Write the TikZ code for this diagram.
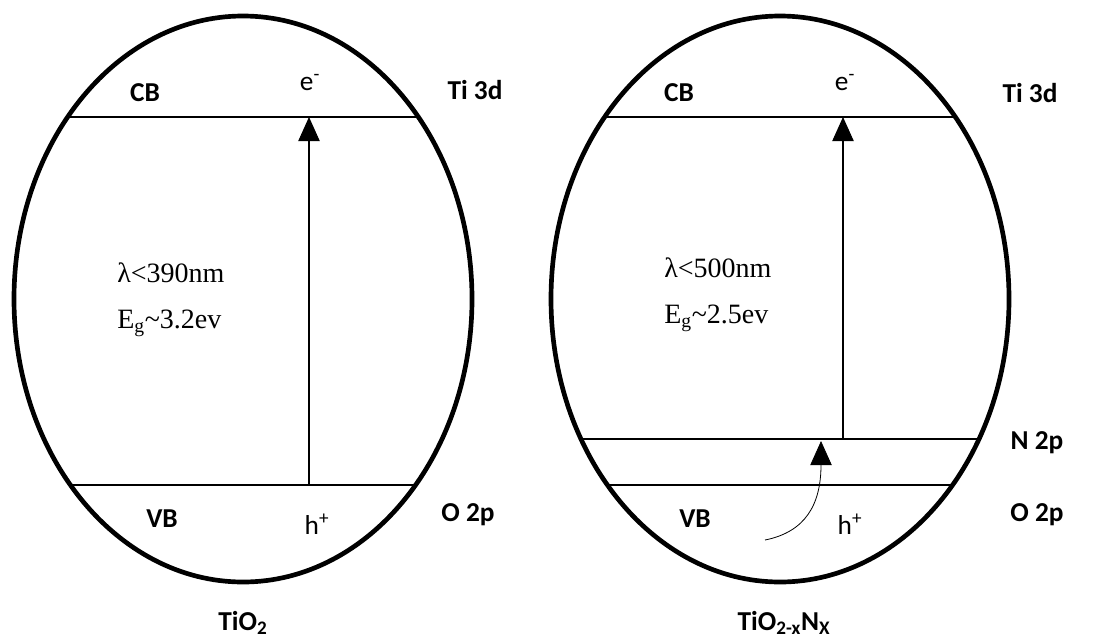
\documentclass[tikz,border=0pt]{standalone}
\usepackage{fontspec}
\usepackage{tikz}
\usetikzlibrary{arrows.meta}
\newfontfamily\lblfont{Carlito}
\newfontfamily\numfont{Liberation Serif}
\tikzset{
  shell/.style={line width=3.5pt},
  bandline/.style={line width=1pt},
  excite/.style={line width=0.8pt,-{Triangle[width=16pt,length=18pt]}},
  bandlbl/.style={font=\lblfont\fontsize{20.5}{24}\selectfont\bfseries,inner sep=0pt},
  carrier/.style={font=\lblfont\fontsize{20.5}{24}\selectfont,inner sep=0pt},
  gaplbl/.style={font=\numfont\fontsize{21}{25}\selectfont,inner sep=0pt,anchor=west}
}

\begin{document}
\begin{tikzpicture}[x=0.75pt,y=-0.75pt]
    \useasboundingbox (0,0) rectangle (1094,639);
    % pure TiO2
    \draw[shell] (243,299) ellipse [x radius=229, y radius=283];
    \coordinate (cbL1) at (67.6,117);  \coordinate (cbR1) at (418.4,117);
    \coordinate (vbL1) at (70.4,485);  \coordinate (vbR1) at (415.6,485);
    \draw[bandline] (cbL1) -- (cbR1);
    \draw[bandline] (vbL1) -- (vbR1);
    \coordinate (up1) at (309,485);  \coordinate (top1) at (309,117);
    \draw[excite] (up1) -- (top1);
    \node[bandlbl] (cb1) at (145,93) {CB};
    \node[carrier] (e1) at (310,83) {e\textsuperscript{-}};
    \node[bandlbl] (ti1) at (475,90) {Ti 3d};
    \node[gaplbl] (lam1) at (117,273) {λ<390nm};
    \node[gaplbl] (eg1) at (117,323) {E\textsubscript{g}\textasciitilde3.2ev};
    \node[bandlbl] (vb1) at (162,519) {VB};
    \node[carrier] (h1) at (317,524) {h\textsuperscript{+}};
    \node[bandlbl] (o1) at (468,515) {O 2p};
    \node[bandlbl] (name1) at (243,623) {TiO\textsubscript{2}};

    % N-doped TiO2
    \draw[shell] (780,299) ellipse [x radius=229, y radius=283];
    \coordinate (cbL2) at (604.6,117); \coordinate (cbR2) at (955.4,117);
    \coordinate (nL2) at (581,439);    \coordinate (nR2) at (979,439);
    \coordinate (vbL2) at (607.4,485); \coordinate (vbR2) at (952.6,485);
    \draw[bandline] (cbL2) -- (cbR2);
    \draw[bandline] (nL2) -- (nR2);
    \draw[bandline] (vbL2) -- (vbR2);
    \coordinate (up2) at (843,439);  \coordinate (top2) at (843,117);
    \draw[excite] (up2) -- (top2);
    \coordinate (hole) at (765,540); \coordinate (npt) at (821,441);
    \draw[excite,line width=0.6pt] (hole) .. controls (805,532) and (821,505) .. (npt);
    \node[bandlbl] (cb2) at (679,93) {CB};
    \node[carrier] (e2) at (845,83) {e\textsuperscript{-}};
    \node[bandlbl] (ti2) at (1030,93) {Ti 3d};
    \node[gaplbl] (lam2) at (664,268) {λ<500nm};
    \node[gaplbl] (eg2) at (664,318) {E\textsubscript{g}\textasciitilde2.5ev};
    \node[bandlbl] (n2) at (1037,443) {N 2p};
    \node[bandlbl] (vb2) at (695,519) {VB};
    \node[carrier] (h2) at (850,524) {h\textsuperscript{+}};
    \node[bandlbl] (o2) at (1037,515) {O 2p};
    \node[bandlbl] (name2) at (784,623) {TiO\textsubscript{2-x}N\textsubscript{X}};
  \end{tikzpicture}
\end{document}
